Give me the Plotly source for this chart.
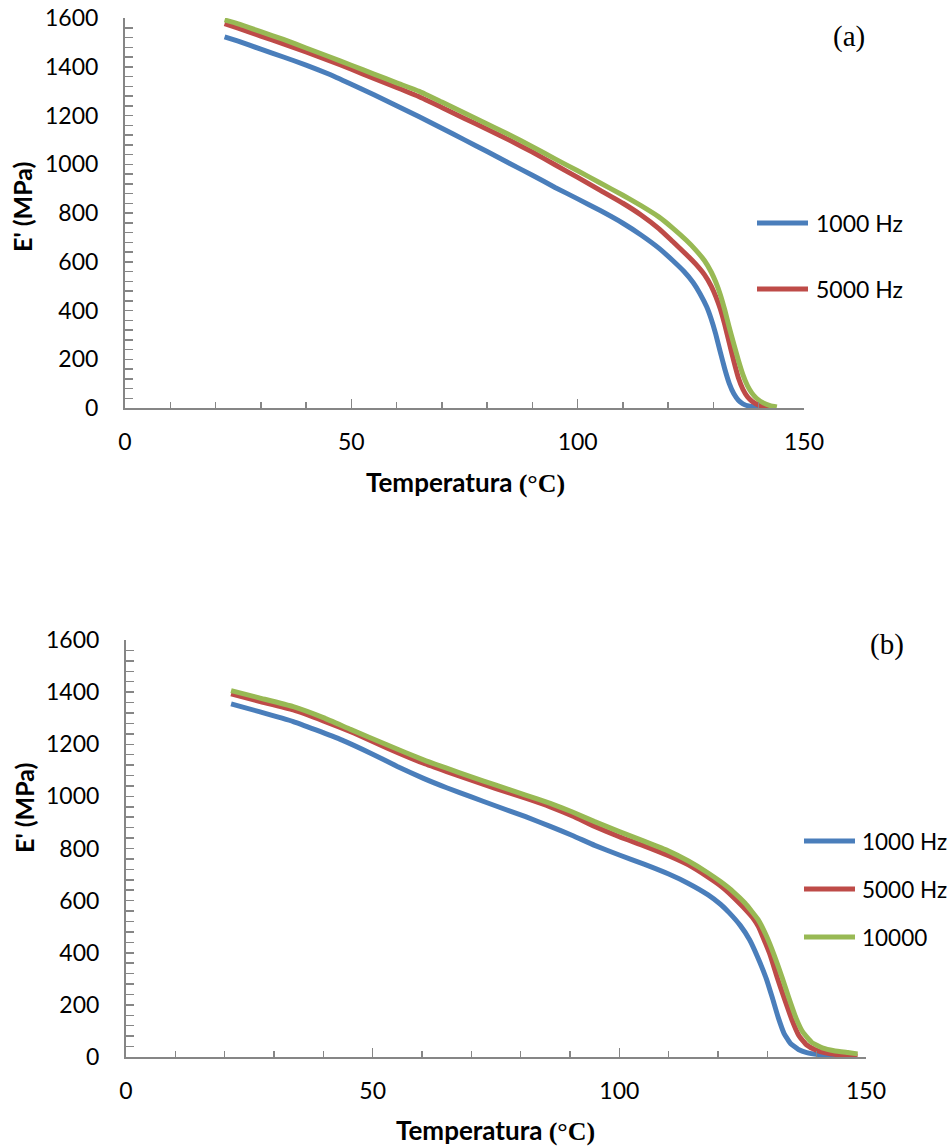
import plotly.graph_objects as go

# ---------------- data (a) ----------------
names_a = ["1000 Hz", "5000 Hz", "10000"]
t_a_1000 = [22, 25, 30, 35, 40, 45, 50, 55, 60, 65, 70, 75, 80, 85, 90, 95, 100, 105, 110, 114, 118,
            121, 123.5, 125.5, 127, 128.5, 129.5, 130.5, 131.5, 132.5, 133.5, 134.5, 135.5, 136.5, 138, 140, 142]
e_a_1000 = [1523, 1505, 1472, 1440, 1407, 1370, 1328, 1285, 1240, 1195, 1148, 1100, 1052, 1003, 955, 905, 858, 810, 758, 710, 655,
            605, 560, 515, 470, 415, 365, 303, 230, 160, 100, 58, 32, 17, 7, 2, 0]
t_a_5000 = [22, 25, 30, 35, 40, 45, 50, 55, 60, 65, 70, 75, 80, 85, 90, 95, 100, 105, 110, 114, 118,
            121, 124, 126, 128, 129.5, 130.5, 131.5, 132.5, 133.5, 134.5, 135.5, 136.5, 137.5, 138.5, 140, 141.5, 143]
e_a_5000 = [1577, 1558, 1526, 1494, 1461, 1426, 1390, 1352, 1315, 1277, 1233, 1188, 1144, 1098, 1050, 998, 946, 893, 840, 792, 735,
            683, 630, 592, 547, 500, 458, 407, 342, 267, 192, 124, 77, 46, 28, 12, 5, 1]
t_a_10000 = [22, 25, 30, 35, 40, 45, 50, 55, 60, 65, 70, 75, 80, 85, 90, 95, 100, 105, 110, 114, 118,
             121, 124, 126, 128, 129.5, 130.5, 131.5, 132.5, 133.5, 134.5, 135.5, 136.5, 137.5, 138.5, 139.5, 141, 142.5, 144]
e_a_10000 = [1592, 1576, 1544, 1512, 1477, 1442, 1406, 1370, 1334, 1299, 1255, 1210, 1165, 1120, 1072, 1022, 973, 923, 873, 830, 783,
             738, 688, 650, 605, 558, 517, 466, 402, 330, 262, 196, 137, 92, 61, 40, 21, 10, 4]

# ---------------- data (b) ----------------
names_b = ["1000 Hz", "5000 Hz", "10000"]
t_b_1000 = [21.3, 27, 33.9, 38.5, 43.8, 50, 55, 60.3, 65, 70, 75, 81, 86, 90.5, 95, 100, 105, 110, 114, 118, 120.5,
            122.3, 124.5, 126.4, 128, 129.8, 131, 132.2, 133.4, 134.7, 136.3, 138, 140.5, 142.9, 145.5, 147.9]
e_b_1000 = [1355, 1325, 1287, 1255, 1216, 1162, 1115, 1069, 1033, 998, 963, 922, 885, 850, 812, 775, 740, 702, 666, 622, 586,
            553, 505, 450, 385, 300, 228, 152, 90, 52, 29, 17, 9, 5, 2, 1]
t_b_5000 = [21.3, 27, 33.9, 40, 46.3, 53, 60.3, 65, 70, 75, 81, 86, 90.5, 95, 100, 105, 110, 114, 118, 120.5,
            122.3, 125, 127.3, 128.2, 129, 130.6, 132, 133.5, 135, 136.4, 138, 139.7, 142, 144.6, 146.5, 148.3]
e_b_5000 = [1393, 1365, 1332, 1290, 1242, 1185, 1127, 1095, 1062, 1030, 993, 960, 925, 885, 845, 810, 772, 737, 690, 657,
            628, 577, 528, 500, 465, 390, 305, 222, 142, 82, 46, 28, 15, 8, 5, 4]
t_b_10000 = [21.3, 27, 33.9, 40, 45.5, 53, 60.3, 65, 70, 75, 81, 86, 90.5, 95, 100, 105, 110, 114, 118, 120.5,
             123.1, 125.5, 128.1, 129.8, 131.4, 133, 134.3, 135.8, 137.2, 139, 141.3, 143.5, 146.3, 148.3]
e_b_10000 = [1406, 1378, 1344, 1302, 1257, 1197, 1140, 1108, 1075, 1043, 1005, 973, 940, 903, 865, 828, 790, 752, 706, 673,
             634, 590, 528, 465, 390, 305, 230, 150, 95, 56, 34, 24, 17, 12]

x_ticks = [0, 50, 100, 150]
y_ticks = [0, 200, 400, 600, 800, 1000, 1200, 1400, 1600]

# ---------------- styling ----------------
W, H = 951, 1146
colors = ["#4A7EBB", "#BE4B48", "#98B954"]
axis_col = "#868686"
FONT = "Lato"
FS = 23
TFS = 26

def px(x):
    return x / W

def py(y):
    return 1 - y / H

fig = go.Figure()

series_a = [(t_a_1000, e_a_1000), (t_a_5000, e_a_5000), (t_a_10000, e_a_10000)]
series_b = [(t_b_1000, e_b_1000), (t_b_5000, e_b_5000), (t_b_10000, e_b_10000)]

for i, (t, e) in enumerate(series_a):
    fig.add_trace(go.Scatter(x=t, y=e, mode="lines", name=names_a[i], showlegend=False,
                             line=dict(color=colors[i], width=5, shape="spline", smoothing=0.4),
                             xaxis="x", yaxis="y"))
for i, (t, e) in enumerate(series_b):
    fig.add_trace(go.Scatter(x=t, y=e, mode="lines", name=names_b[i], showlegend=False,
                             line=dict(color=colors[i], width=5, shape="spline", smoothing=0.4),
                             xaxis="x2", yaxis="y2"))

def xax(domain, anchor):
    return dict(domain=domain, anchor=anchor, range=[0, 150], tickvals=x_ticks, automargin=False,
                ticks="inside", ticklen=9, tickwidth=1.5, tickcolor=axis_col,
                showline=True, linecolor=axis_col, linewidth=2, showgrid=False, zeroline=False,
                minor=dict(dtick=10, tick0=0, ticks="inside", ticklen=6, tickwidth=1.5, tickcolor=axis_col, showgrid=False),
                tickfont=dict(family=FONT, size=FS, color="black"), ticklabelstandoff=12,
                ticklabeloverflow="allow", fixedrange=True)

def yax(domain, anchor):
    return dict(domain=domain, anchor=anchor, range=[0, 1600], tickvals=y_ticks, automargin=False,
                ticks="inside", ticklen=8, tickwidth=1.5, tickcolor=axis_col,
                showline=True, linecolor=axis_col, linewidth=2, showgrid=False, zeroline=False,
                minor=dict(dtick=40, tick0=0, ticks="inside", ticklen=8, tickwidth=1.5, tickcolor=axis_col, showgrid=False),
                tickfont=dict(family=FONT, size=FS, color="black"), ticklabelstandoff=20,
                ticklabeloverflow="allow", fixedrange=True)

fig.update_layout(
    width=W, height=H, autosize=False,
    margin=dict(l=0, r=0, t=0, b=0, pad=0),
    paper_bgcolor="white", plot_bgcolor="white",
    showlegend=False,
    xaxis=xax([px(125), px(804)], "y"),
    yaxis=yax([py(408), py(18)], "x"),
    xaxis2=xax([px(126), px(866)], "y2"),
    yaxis2=yax([py(1057), py(640)], "x2"),
)

title_x = "<b>Temperatura <span style='font-family:Liberation Serif'>(°C)</span></b>"
annots = [
    dict(x=px(465), y=py(482), text=title_x, font=dict(family=FONT, size=TFS, color="black")),
    dict(x=px(495), y=py(1130), text=title_x, font=dict(family=FONT, size=TFS, color="black")),
    dict(x=px(22), y=py(207), text="<b>E' (MPa)</b>", textangle=-90, font=dict(family=FONT, size=TFS - 1, color="black")),
    dict(x=px(24), y=py(808), text="<b>E' (MPa)</b>", textangle=-90, font=dict(family=FONT, size=TFS - 1, color="black")),
    dict(x=px(849), y=py(36), text="(a)", font=dict(family="Liberation Serif", size=29, color="black")),
    dict(x=px(887), y=py(644), text="(b)", font=dict(family="Liberation Serif", size=29, color="black")),
]

shapes = []
# legend (a): only the first two entries are visible
leg_a_y = [223, 289]
for i, yy in enumerate(leg_a_y):
    shapes.append(dict(type="line", xref="paper", yref="paper", x0=px(757), x1=px(808), y0=py(yy), y1=py(yy),
                       line=dict(color=colors[i], width=5)))
    annots.append(dict(x=px(814), y=py(yy), text=names_a[i], xanchor="left",
                       font=dict(family=FONT, size=FS, color="black")))
leg_b_y = [841, 889, 937]
for i, yy in enumerate(leg_b_y):
    shapes.append(dict(type="line", xref="paper", yref="paper", x0=px(804), x1=px(855), y0=py(yy), y1=py(yy),
                       line=dict(color=colors[i], width=5)))
    annots.append(dict(x=px(860), y=py(yy), text=names_b[i], xanchor="left",
                       font=dict(family=FONT, size=FS - 0.5, color="black")))

for a in annots:
    a.update(xref="paper", yref="paper", showarrow=False)
    a.setdefault("xanchor", "center")
    a.setdefault("yanchor", "middle")

fig.update_layout(annotations=annots, shapes=shapes)
fig.write_html(
    "out.html",
    config={"displayModeBar": False, "staticPlot": True},
    post_script="document.body.style.margin='0';document.body.style.overflow='hidden';",
)
